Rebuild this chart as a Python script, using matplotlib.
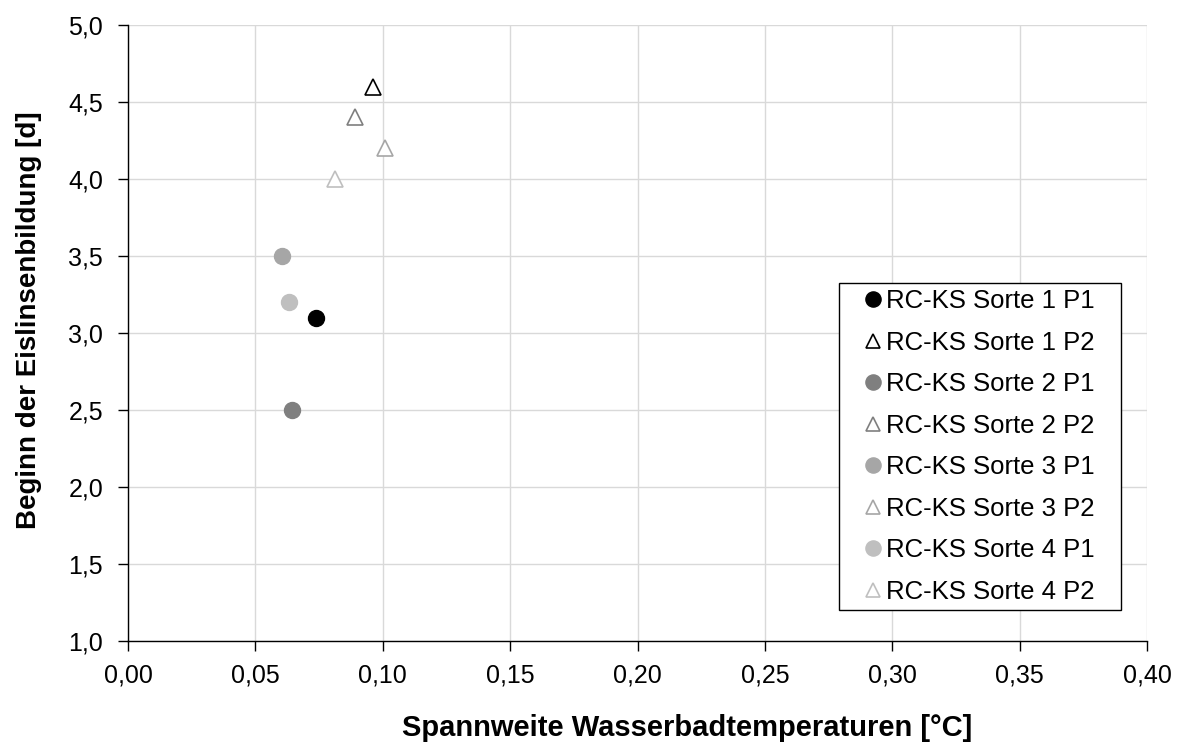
import matplotlib
matplotlib.use("Agg")
import matplotlib.pyplot as plt
from matplotlib.patches import Rectangle
from matplotlib.ticker import FuncFormatter, MultipleLocator

plt.rcParams['font.family'] = ['Liberation Sans', 'DejaVu Sans']

labels = ["RC-KS Sorte 1 P1", "RC-KS Sorte 1 P2", "RC-KS Sorte 2 P1", "RC-KS Sorte 2 P2",
          "RC-KS Sorte 3 P1", "RC-KS Sorte 3 P2", "RC-KS Sorte 4 P1", "RC-KS Sorte 4 P2"]
x_vals = [0.0737, 0.0961, 0.0643, 0.0890, 0.0604, 0.1008, 0.0631, 0.0812]
y_vals = [3.1, 4.6, 2.5, 4.4, 3.5, 4.2, 3.2, 4.0]
markers = ["o", "^", "o", "^", "o", "^", "o", "^"]
colors = ["#000000", "#000000", "#7f7f7f", "#7f7f7f", "#a6a6a6", "#a6a6a6", "#bfbfbf", "#bfbfbf"]

fig = plt.figure(figsize=(11.79, 7.45), dpi=100)
ax = fig.add_axes([0.1086, 0.1396, 0.8643, 0.8268])

for lab, xv, yv, m, c in zip(labels, x_vals, y_vals, markers, colors):
    if m == "o":
        ax.plot([xv], [yv], linestyle="none", marker="o", markersize=11.5,
                markerfacecolor=c, markeredgecolor=c, label=lab, zorder=3)
    else:
        ax.plot([xv], [yv], linestyle="none", marker="^", markersize=11,
                markerfacecolor="white", markeredgecolor=c, markeredgewidth=1.2,
                label=lab, zorder=3)

ax.set_xlim(0, 0.40)
ax.set_ylim(1.0, 5.0)
ax.xaxis.set_major_locator(MultipleLocator(0.05))
ax.yaxis.set_major_locator(MultipleLocator(0.5))
ax.xaxis.set_major_formatter(FuncFormatter(lambda v, p: f"{v:.2f}".replace(".", ",")))
ax.yaxis.set_major_formatter(FuncFormatter(lambda v, p: f"{v:.1f}".replace(".", ",")))

ax.grid(True, color="#d9d9d9", linewidth=1.0, zorder=0)
ax.set_axisbelow(True)
for s in ["top", "right"]:
    ax.spines[s].set_visible(False)
for s in ["left", "bottom"]:
    ax.spines[s].set_color("black")
    ax.spines[s].set_linewidth(1.0)
ax.tick_params(axis="both", direction="out", length=7, width=1, labelsize=18, colors="black")
ax.tick_params(axis="x", pad=9)
ax.tick_params(axis="y", pad=11)

ax.set_xlabel("Spannweite Wasserbadtemperaturen [°C]", fontsize=21, fontweight="bold")
ax.set_ylabel("Beginn der Eislinsenbildung [d]", fontsize=20, fontweight="bold")
ax.xaxis.set_label_coords(0.549, -0.1185)
ax.yaxis.set_label_coords(-0.084, 0.521)

leg = ax.legend(loc="lower right", bbox_to_anchor=(0.955, 0.05), fontsize=18.5, frameon=False,
                handlelength=0.8, handletextpad=0.1, labelspacing=0.68,
                borderpad=0.25, borderaxespad=0.0, markerscale=0.95)

# Box around the legend with wider side margins
fig.canvas.draw()
bb = leg.get_window_extent().transformed(fig.transFigure.inverted())
pad_l = 18 / fig.bbox.width
pad_r = 20 / fig.bbox.width
frame = Rectangle((bb.x0 - pad_l, bb.y0), bb.width + pad_l + pad_r, bb.height,
                  transform=fig.transFigure, facecolor="white", edgecolor="black",
                  linewidth=1.0, zorder=4)
fig.add_artist(frame)
leg.set_zorder(5)
leg.remove()
fig.add_artist(leg)

fig.savefig("out.png", dpi=100)
